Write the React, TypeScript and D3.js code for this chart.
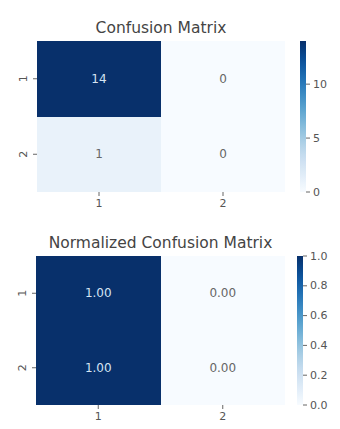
import React from "react";
import * as d3 from "d3";

const classes = ["1", "2"];
const counts = [
  [14, 0],
  [1, 0],
];
const normalized = [
  [1.0, 0.0],
  [1.0, 0.0],
];
const countTicks = [0, 5, 10];
const normTicks = [0, 0.2, 0.4, 0.6, 0.8, 1.0];

type PanelProps = {
  title: string;
  data: number[][];
  vmax: number;
  fmt: (v: number) => string;
  ticks: number[];
  tickFmt: (v: number) => string;
  x0: number;
  x1: number;
  y0: number;
  y1: number;
  titleY: number;
  cbX: number;
  gradId: string;
};

function Panel(p: PanelProps) {
  const x = d3.scaleBand<string>().domain(classes).range([p.x0, p.x1]);
  const y = d3.scaleBand<string>().domain(classes).range([p.y0, p.y1]);
  const color = d3.scaleSequential(d3.interpolateBlues).domain([0, p.vmax]);
  const cb = d3.scaleLinear().domain([0, p.vmax]).range([p.y1, p.y0]);
  const cbW = 6;
  const stops = d3.range(0, 1.0001, 0.05);
  const font = "DejaVu Sans, sans-serif";
  return (
    <g fontFamily={font}>
      <defs>
        <linearGradient id={p.gradId} x1="0" y1="1" x2="0" y2="0">
          {stops.map((t) => (
            <stop key={t} offset={t} stopColor={d3.interpolateBlues(t)} />
          ))}
        </linearGradient>
      </defs>
      <text x={(p.x0 + p.x1) / 2} y={p.titleY} textAnchor="middle" fontSize={15.5} fill="#444">
        {p.title}
      </text>
      {p.data.map((row, i) =>
        row.map((v, j) => {
          const cx = x(classes[j])!;
          const cy = y(classes[i])!;
          return (
            <rect
              key={`r${i}-${j}`}
              x={Math.round(cx)}
              y={Math.round(cy)}
              width={Math.round(cx + x.bandwidth()) - Math.round(cx)}
              height={Math.round(cy + y.bandwidth()) - Math.round(cy)}
              fill={color(v)}
              shapeRendering="crispEdges"
            />
          );
        })
      )}
      {p.data.map((row, i) =>
        row.map((v, j) => {
          const cx = x(classes[j])!;
          const cy = y(classes[i])!;
          const dark = v / p.vmax > 0.5;
          return (
            <text
              key={`t${i}-${j}`}
              x={cx + x.bandwidth() / 2}
              y={cy + y.bandwidth() / 2}
              textAnchor="middle"
              dominantBaseline="central"
              fontSize={12}
              fill={dark ? "#d6e4f3" : "#666"}
            >
              {p.fmt(v)}
            </text>
          );
        })
      )}
      {classes.map((c) => {
        const cx = x(c)! + x.bandwidth() / 2;
        return (
          <g key={"x" + c}>
            <line x1={cx} x2={cx} y1={p.y1} y2={p.y1 + 4} stroke="#666" />
            <text x={cx} y={p.y1 + 15} textAnchor="middle" fontSize={11} fill="#555">
              {c}
            </text>
          </g>
        );
      })}
      {classes.map((c) => {
        const cy = y(c)! + y.bandwidth() / 2;
        return (
          <g key={"y" + c}>
            <line x1={p.x0 - 4} x2={p.x0} y1={cy} y2={cy} stroke="#666" />
            <text
              transform={`translate(${p.x0 - 10},${cy}) rotate(-90)`}
              textAnchor="middle"
              fontSize={11}
              fill="#555"
            >
              {c}
            </text>
          </g>
        );
      })}
      <rect x={p.cbX} y={p.y0} width={cbW} height={p.y1 - p.y0} fill={`url(#${p.gradId})`} />
      {p.ticks.map((t) => (
        <g key={"t" + t}>
          <line x1={p.cbX + cbW} x2={p.cbX + cbW + 4} y1={cb(t)} y2={cb(t)} stroke="#666" />
          <text x={p.cbX + cbW + 7} y={cb(t)} dominantBaseline="central" fontSize={11} fill="#555">
            {p.tickFmt(t)}
          </text>
        </g>
      ))}
    </g>
  );
}

export default function App() {
  return (
    <svg width={340} height={429} style={{ position: "absolute", left: 0, top: 0 }}>
      <rect width={340} height={429} fill="#fff" />
      <Panel
        title="Confusion Matrix"
        data={counts}
        vmax={14}
        fmt={(v) => String(v)}
        ticks={countTicks}
        tickFmt={(v) => String(v)}
        x0={37}
        x1={285}
        y0={41}
        y1={192}
        titleY={33}
        cbX={300}
        gradId="g1"
      />
      <Panel
        title="Normalized Confusion Matrix"
        data={normalized}
        vmax={1}
        fmt={(v) => v.toFixed(2)}
        ticks={normTicks}
        tickFmt={(v) => v.toFixed(1)}
        x0={36}
        x1={285}
        y0={256}
        y1={405}
        titleY={248}
        cbX={297}
        gradId="g2"
      />
    </svg>
  );
}
